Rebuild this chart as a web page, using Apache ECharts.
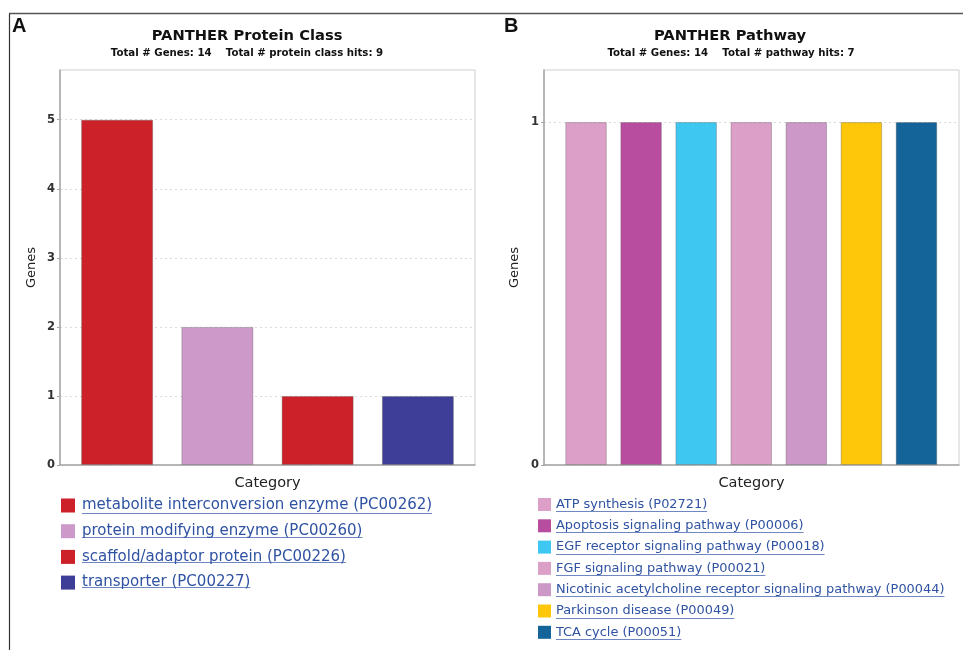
<!DOCTYPE html>
<html>
<head>
<meta charset="utf-8">
<script src="https://cdn.jsdelivr.net/npm/echarts@6/dist/echarts.min.js"></script>
<style>
html,body{margin:0;padding:0;background:#fff;}
#chart{width:963px;height:650px;}
</style>
</head>
<body>
<div id="chart"></div>
<script>
// ---- Data ----
const categoriesA = [
  'metabolite interconversion enzyme (PC00262)',
  'protein modifying enzyme (PC00260)',
  'scaffold/adaptor protein (PC00226)',
  'transporter (PC00227)'
];
const valuesA = [5, 2, 1, 1];
const colorsA = ['#cc2128', '#cc99c8', '#cc2128', '#3e3e98'];
const ticksA = [0, 1, 2, 3, 4, 5];

const categoriesB = [
  'ATP synthesis (P02721)',
  'Apoptosis signaling pathway (P00006)',
  'EGF receptor signaling pathway (P00018)',
  'FGF signaling pathway (P00021)',
  'Nicotinic acetylcholine receptor signaling pathway (P00044)',
  'Parkinson disease (P00049)',
  'TCA cycle (P00051)'
];
const valuesB = [1, 1, 1, 1, 1, 1, 1];
const colorsB = ['#dc9fc8', '#b84da0', '#3ec7f1', '#dc9fc8', '#cb98c8', '#ffc709', '#146399'];
const ticksB = [0, 1];

const FONT = 'DejaVu Sans';
const LINK = '#2f52a2';

// ---- Layout ----
const frameA = {left: 60, top: 70, width: 415, height: 395};
const barsA = {left: 67, top: 70, width: 401, height: 395};
const frameB = {left: 544, top: 70, width: 415, height: 395};
const barsB = {left: 558.5, top: 70, width: 385.5, height: 395};
const maxA = 5.72, maxB = 1.152;

const legA = {left: 61, top: 498, icon: 14, pitch: 24.7, font: 15, pad: 2, ul: 7.5};
const legB = {left: 538, top: 498, icon: 13, pitch: 21.3, font: 12.9, pad: 0, ul: 6.5};

function makeSeries(cats, vals, colors, axisIdx, stack, barWidth) {
  return cats.map((c, i) => ({
    type: 'bar',
    name: c,
    xAxisIndex: axisIdx,
    yAxisIndex: axisIdx,
    stack: stack,
    barWidth: barWidth,
    data: vals.map((v, j) => (j === i ? v : '-')),
    itemStyle: {color: colors[i], borderColor: 'rgba(90,90,90,0.35)', borderWidth: 1},
    emphasis: {disabled: true},
    animation: false
  }));
}

function frameX(idx, name) {
  return {
    gridIndex: idx, type: 'category', data: [''],
    axisLine: {show: true, lineStyle: {color: '#a6a6a6', width: 1.5}},
    axisTick: {show: false}, axisLabel: {show: false},
    name: name, nameLocation: 'middle', nameGap: 11,
    nameTextStyle: {fontFamily: FONT, fontSize: 14.5, color: '#222'}
  };
}
function frameY(idx, max, ticks, gap) {
  return {
    gridIndex: idx, type: 'value', min: 0, max: max, interval: 1,
    axisLine: {show: true, lineStyle: {color: '#a6a6a6', width: 1.5}},
    axisTick: {show: true, inside: false, length: 3, lineStyle: {color: '#a6a6a6'}, customValues: ticks},
    axisLabel: {
      margin: 5, fontFamily: FONT, fontSize: 11.5, fontWeight: 'bold', color: '#333',
      formatter: v => (ticks.indexOf(v) >= 0 ? String(v) : '')
    },
    splitLine: {show: true, lineStyle: {color: '#dadada', type: [2, 3], width: 1}},
    name: 'Genes', nameLocation: 'middle', nameGap: gap,
    nameTextStyle: {fontFamily: FONT, fontSize: 13, color: '#222'}
  };
}
function hiddenX(idx, cats) {
  return {gridIndex: idx, type: 'category', data: cats, show: false};
}
function hiddenY(idx, max) {
  return {gridIndex: idx, type: 'value', min: 0, max: max, show: false, splitLine: {show: false}};
}

function legendOf(cats, L) {
  return {
    orient: 'vertical', left: L.left, top: L.top, padding: 0, height: 150,
    data: cats, icon: 'rect', itemWidth: L.icon, itemHeight: L.icon, itemGap: L.pitch - L.icon,
    selectedMode: false,
    itemStyle: {borderWidth: 0},
    textStyle: {fontFamily: FONT, fontSize: L.font, color: LINK, lineHeight: L.icon, padding: [0, 0, 0, L.pad]}
  };
}

// underline decorations for the link-style legend labels
const ctx = document.createElement('canvas').getContext('2d');
function underlines(cats, L) {
  ctx.font = L.font + 'px "' + FONT + '"';
  return cats.map((c, i) => {
    const x0 = L.left + L.icon + 5 + L.pad;
    const y = Math.round(L.top + i * L.pitch + L.icon / 2 + L.ul) + 0.5;
    const w = ctx.measureText(c).width;
    return {type: 'line', shape: {x1: x0, y1: y, x2: x0 + w, y2: y},
            style: {stroke: '#6f88c2', lineWidth: 1}, silent: true};
  });
}

const titleStyle = {fontFamily: FONT, fontSize: 14.7, fontWeight: 'bold', color: '#111'};
const subStyle = {fontFamily: FONT, fontSize: 10.2, fontWeight: 'bold', color: '#111'};
const letterStyle = {fontFamily: 'Liberation Sans', fontSize: 20, fontWeight: 'bold', color: '#111'};

const option = {
  animation: false,
  backgroundColor: '#fff',
  title: [
    {text: 'A', left: 12, top: 16, padding: 0, textStyle: letterStyle},
    {text: 'B', left: 504, top: 16, padding: 0, textStyle: letterStyle},
    {text: 'PANTHER Protein Class', left: 247, top: 29, padding: 0, textAlign: 'center', textStyle: titleStyle},
    {text: 'Total # Genes: 14    Total # protein class hits: 9', left: 247, top: 48.5, padding: 0, textAlign: 'center', textStyle: subStyle},
    {text: 'PANTHER Pathway', left: 730, top: 29, padding: 0, textAlign: 'center', textStyle: titleStyle},
    {text: 'Total # Genes: 14    Total # pathway hits: 7', left: 731, top: 48.5, padding: 0, textAlign: 'center', textStyle: subStyle}
  ],
  grid: [
    Object.assign({show: true, borderColor: '#cfcfcf', borderWidth: 1, backgroundColor: '#fff'}, frameA),
    Object.assign({show: false}, barsA),
    Object.assign({show: true, borderColor: '#cfcfcf', borderWidth: 1, backgroundColor: '#fff'}, frameB),
    Object.assign({show: false}, barsB)
  ],
  xAxis: [frameX(0, 'Category'), hiddenX(1, categoriesA), frameX(2, 'Category'), hiddenX(3, categoriesB)],
  yAxis: [frameY(0, maxA, ticksA, 22), hiddenY(1, maxA), frameY(2, maxB, ticksB, 23), hiddenY(3, maxB)],
  legend: [legendOf(categoriesA, legA), legendOf(categoriesB, legB)],
  series: makeSeries(categoriesA, valuesA, colorsA, 1, 'a', 72)
    .concat(makeSeries(categoriesB, valuesB, colorsB, 3, 'b', 41.5)),
  graphic: [
    {type: 'line', shape: {x1: 9, y1: 13.5, x2: 963, y2: 13.5}, style: {stroke: '#555', lineWidth: 1.5}, silent: true},
    {type: 'line', shape: {x1: 9.5, y1: 13.5, x2: 9.5, y2: 650}, style: {stroke: '#333', lineWidth: 1.2}, silent: true}
  ].concat(underlines(categoriesA, legA), underlines(categoriesB, legB))
};

const chart = echarts.init(document.getElementById('chart'), null, {renderer: 'canvas'});
chart.setOption(option);
</script>
</body>
</html>
